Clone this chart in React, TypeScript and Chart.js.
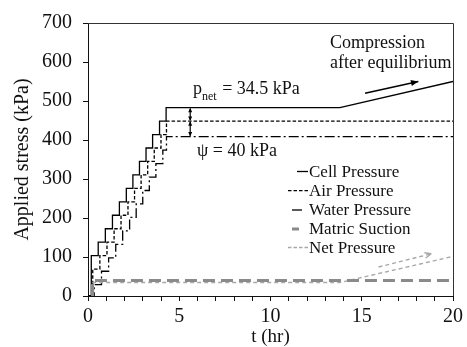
import React, { useEffect, useRef } from "react";
import { Chart, registerables } from "chart.js";
Chart.register(...registerables);

const FONT = '"Liberation Serif", Tinos, "DejaVu Serif", serif';

// ---- data ----
const xMin = 0;
const xMax = 20;
const yMin = 0;
const yMax = 700;
const xLabelEvery = 5;
const yStep = 100;

const seriesNames = ["Cell Pressure", "Air Pressure", "Water Pressure", "Matric Suction", "Net Pressure"];

const cellStepTimes = [0.18, 0.56, 0.95, 1.34, 1.72, 2.1, 2.46, 2.82, 3.18, 3.54, 3.92, 4.28];
const cellLevels = [103.5, 138, 172.5, 207, 241.5, 276, 310.5, 345, 379.5, 414, 448.5, 483];
const cellTailTimes = [13.8, 20];
const cellTailValues = [483, 550];

const airStepTimes = [0.26, 0.65, 1.04, 1.43, 1.81, 2.19, 2.55, 2.91, 3.27, 3.63, 4.0, 4.3];
const airLevels = [69, 103.5, 138, 172.5, 207, 241.5, 276, 310.5, 345, 379.5, 414, 448.5];
const airTailTimes = [20];
const airTailValues = [448.5];

const waterStepTimes = [0.34, 0.74, 1.13, 1.52, 1.9, 2.28, 2.64, 3.0, 3.36, 3.72, 4.1, 4.3];
const waterLevels = [29, 63.5, 98, 132.5, 167, 201.5, 236, 270.5, 305, 339.5, 374, 408.5];
const waterTailTimes = [20];
const waterTailValues = [408.5];

const suctionTimes = [0.25, 0.25, 20];
const suctionValues = [0, 40, 40];

const netTimes = [0.2, 0.2, 13.8, 20];
const netValues = [0, 34.5, 34.5, 101.5];

// annotation anchors (data units)
const gapArrowT = 5.6;
const pnetArrow = [483, 448.5];
const psiArrow = [448.5, 408.5];
const compressionArrowT = [15.18, 18.1];
const compressionArrowV = [520, 550];
const netArrowT = [15.92, 18.81];
const netArrowV = [74.3, 108.3];

function stairs(times: number[], levels: number[], tailT: number[], tailV: number[]) {
  const pts: { x: number; y: number }[] = [{ x: 0, y: 0 }];
  let prev = 0;
  times.forEach((t, i) => {
    pts.push({ x: t, y: prev });
    pts.push({ x: t, y: levels[i] });
    prev = levels[i];
  });
  tailT.forEach((t, i) => pts.push({ x: t, y: tailV[i] }));
  return pts;
}

function arrowHead(ctx: CanvasRenderingContext2D, x1: number, y1: number, x2: number, y2: number, size: number, fill: boolean) {
  const a = Math.atan2(y2 - y1, x2 - x1);
  ctx.save();
  ctx.setLineDash([]);
  ctx.beginPath();
  ctx.moveTo(x2, y2);
  ctx.lineTo(x2 - size * Math.cos(a - 0.4), y2 - size * Math.sin(a - 0.4));
  if (fill) {
    ctx.lineTo(x2 - size * Math.cos(a + 0.4), y2 - size * Math.sin(a + 0.4));
    ctx.closePath();
    ctx.fill();
  } else {
    ctx.moveTo(x2, y2);
    ctx.lineTo(x2 - size * Math.cos(a + 0.4), y2 - size * Math.sin(a + 0.4));
    ctx.stroke();
  }
  ctx.restore();
}

const decorPlugin = {
  id: "decor",
  afterDraw(chart: any) {
    const ctx: CanvasRenderingContext2D = chart.ctx;
    const xs = chart.scales.x;
    const ys = chart.scales.y;
    const ca = chart.chartArea;
    ctx.save();
    ctx.strokeStyle = "#333";
    ctx.lineWidth = 1;
    ctx.beginPath();
    ctx.moveTo(ca.left, ca.top + 0.5);
    ctx.lineTo(ca.right + 0.5, ca.top + 0.5);
    ctx.lineTo(ca.right + 0.5, ca.bottom);
    ctx.stroke();

    ctx.strokeStyle = "#000";
    ctx.fillStyle = "#000";
    ctx.lineWidth = 1.2;
    const gx = xs.getPixelForValue(gapArrowT);
    [pnetArrow, psiArrow].forEach(([a, b]) => {
      const ya = ys.getPixelForValue(a);
      const yb = ys.getPixelForValue(b);
      ctx.beginPath();
      ctx.moveTo(gx, ya + 1);
      ctx.lineTo(gx, yb - 1);
      ctx.stroke();
      arrowHead(ctx, gx, yb, gx, ya, 5, true);
      arrowHead(ctx, gx, ya, gx, yb, 5, true);
    });

    const cx1 = xs.getPixelForValue(compressionArrowT[0]);
    const cy1 = ys.getPixelForValue(compressionArrowV[0]);
    const cx2 = xs.getPixelForValue(compressionArrowT[1]);
    const cy2 = ys.getPixelForValue(compressionArrowV[1]);
    ctx.lineWidth = 1.5;
    ctx.beginPath();
    ctx.moveTo(cx1, cy1);
    ctx.lineTo(cx2, cy2);
    ctx.stroke();
    arrowHead(ctx, cx1, cy1, cx2, cy2, 8, true);

    const nx1 = xs.getPixelForValue(netArrowT[0]);
    const ny1 = ys.getPixelForValue(netArrowV[0]);
    const nx2 = xs.getPixelForValue(netArrowT[1]);
    const ny2 = ys.getPixelForValue(netArrowV[1]);
    ctx.strokeStyle = "#a8a8a8";
    ctx.lineWidth = 1.4;
    ctx.setLineDash([4, 3]);
    ctx.beginPath();
    ctx.moveTo(nx1, ny1);
    ctx.lineTo(nx2, ny2);
    ctx.stroke();
    ctx.setLineDash([]);
    arrowHead(ctx, nx1, ny1, nx2, ny2, 7, false);

    ctx.fillStyle = "#111";
    ctx.textAlign = "left";
    ctx.textBaseline = "alphabetic";
    ctx.font = `18px ${FONT}`;
    ctx.fillText("Compression", 330, 48);
    ctx.fillText("after equilibrium", 330, 68);
    let px = 193;
    ctx.fillText("p", px, 94);
    px += ctx.measureText("p").width;
    ctx.font = `12px ${FONT}`;
    ctx.fillText("net", px, 100);
    px += ctx.measureText("net").width;
    ctx.font = `18px ${FONT}`;
    ctx.fillText(" = 34.5 kPa", px + 1, 94);
    ctx.fillText("ψ = 40 kPa", 197, 156);

    const rows = [171.5, 190.7, 210, 229, 247.5];
    const textX = 309;
    const samples = [
      { x1: 297, x2: 308, color: "#000", w: 1.3, dash: [] as number[] },
      { x1: 288, x2: 308, color: "#000", w: 1.3, dash: [3.5, 2] },
      { x1: 292, x2: 302, color: "#000", w: 1.3, dash: [] as number[] },
      { x1: 292, x2: 299, color: "#8a8a8a", w: 3, dash: [] as number[] },
      { x1: 288, x2: 308, color: "#a8a8a8", w: 1.3, dash: [3.5, 2] },
    ];
    samples.forEach((s, i) => {
      ctx.strokeStyle = s.color;
      ctx.lineWidth = s.w;
      ctx.setLineDash(s.dash);
      ctx.beginPath();
      ctx.moveTo(s.x1, rows[i]);
      ctx.lineTo(s.x2, rows[i]);
      ctx.stroke();
    });
    ctx.setLineDash([]);
    ctx.font = `17px ${FONT}`;
    ctx.textBaseline = "middle";
    ctx.fillStyle = "#111";
    seriesNames.forEach((n, i) => ctx.fillText(n, textX, rows[i] + 1));
    ctx.restore();
  },
};

export default function App() {
  const ref = useRef<HTMLCanvasElement>(null);
  useEffect(() => {
    document.body.style.margin = "0";
    const canvas = ref.current;
    if (!canvas) return;
    const common = { pointRadius: 0, fill: false, tension: 0 };
    const chart = new Chart(canvas, {
      type: "line",
      data: {
        datasets: [
          { label: seriesNames[3], data: stairs([], [], suctionTimes, suctionValues).slice(1), borderColor: "#8a8a8a", borderWidth: 3, borderDash: [12, 6], ...common },
          { label: seriesNames[4], data: stairs([], [], netTimes, netValues).slice(1), borderColor: "#a8a8a8", borderWidth: 1.4, borderDash: [4, 3], ...common },
          { label: seriesNames[2], data: stairs(waterStepTimes, waterLevels, waterTailTimes, waterTailValues), borderColor: "#000", borderWidth: 1.3, borderDash: [10, 3, 2, 3], ...common },
          { label: seriesNames[1], data: stairs(airStepTimes, airLevels, airTailTimes, airTailValues), borderColor: "#000", borderWidth: 1.3, borderDash: [3.5, 2], ...common },
          { label: seriesNames[0], data: stairs(cellStepTimes, cellLevels, cellTailTimes, cellTailValues), borderColor: "#000", borderWidth: 1.3, ...common },
        ] as any,
      },
      options: {
        responsive: false,
        animation: false,
        events: [],
        layout: { padding: { left: 0, right: 10, top: 20, bottom: 0 } },
        plugins: { legend: { display: false }, tooltip: { enabled: false } },
        scales: {
          x: {
            type: "linear",
            min: xMin,
            max: xMax,
            afterFit: (s: any) => { s.height = 51; },
            ticks: {
              stepSize: 1,
              autoSkip: false,
              maxRotation: 0,
              color: "#111",
              padding: 4,
              font: { family: FONT, size: 20 },
              callback: (v: any) => (Number(v) % xLabelEvery === 0 ? String(v) : ""),
            },
            grid: { drawOnChartArea: false, color: "#111", tickLength: 5 },
            border: { color: "#111", width: 1 },
            title: { display: true, text: "t (hr)", color: "#111", font: { family: FONT, size: 19, lineHeight: 1 }, padding: { top: 0, bottom: 0 } },
          },
          y: {
            type: "linear",
            min: yMin,
            max: yMax,
            afterFit: (s: any) => { s.width = 88; },
            ticks: { stepSize: yStep, color: "#111", padding: 11, font: { family: FONT, size: 20 } },
            grid: { drawOnChartArea: false, color: "#111", tickLength: 5 },
            border: { color: "#111", width: 1 },
            title: { display: true, text: "Applied stress (kPa)", color: "#111", font: { family: FONT, size: 20, lineHeight: 1 }, padding: { top: 13, bottom: 0 } },
          },
        },
      } as any,
      plugins: [decorPlugin],
    });
    return () => { chart.destroy(); };
  }, []);
  return <canvas ref={ref} width={467} height={347} style={{ display: "block" }} />;
}
